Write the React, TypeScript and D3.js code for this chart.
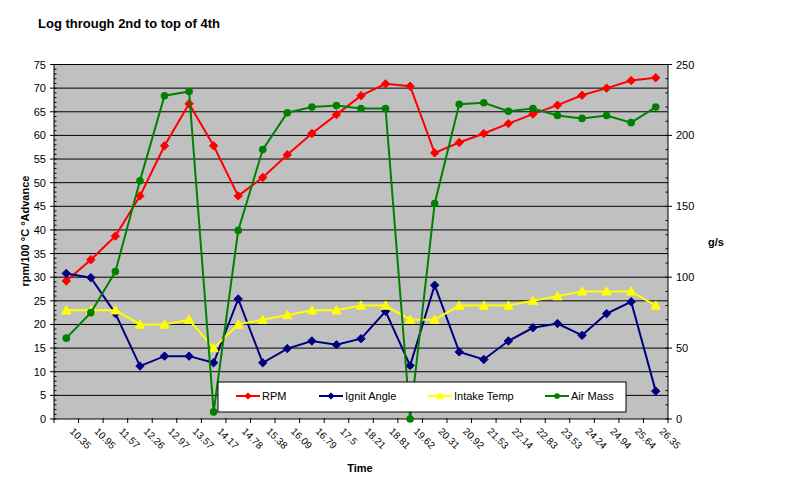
import React from "react";
import * as d3 from "d3";

const times = ["10.35","10.95","11.57","12.26","12.97","13.57","14.17","14.78","15.38","16.09","16.79","17.5","18.21","18.81","19.62","20.31","20.92","21.53","22.14","22.83","23.53","24.24","24.94","25.64","26.35"];
const rpm = [29.2,33.7,38.7,47.2,57.8,66.7,57.8,47.2,51.1,55.9,60.4,64.4,68.4,70.9,70.4,56.3,58.5,60.4,62.5,64.5,66.4,68.5,70,71.6,72.2];
const ignitAngle = [30.8,29.9,22.3,11.2,13.3,13.3,11.9,25.4,11.9,14.9,16.5,15.7,17.0,22.8,11.3,28.3,14.2,12.6,16.5,19.3,20.2,17.7,22.3,24.8,5.9];
const intakeTemp = [23,23,23,20,20,21,15,20,21,22,23,23,24,24,21,21,24,24,24,25,26,27,27,27,24];
const airMass = [57,75,104,168,228,231,5,133,190,216,220,221,219,219,0,152,222,223,217,219,214,212,214,209,220];
const leftTicks = d3.range(0, 76, 5);
const rightTicks = d3.range(0, 251, 50);

const W = 800, H = 491;
const L = 54, R = 668, T = 64.5, B = 419;
const FONT = "'Liberation Sans', Arial, sans-serif";

type Shape = "diamond" | "triangle" | "circle";

function Marker({ x, y, shape, color, s = 1 }: { x: number; y: number; shape: Shape; color: string; s?: number }) {
  if (shape === "diamond") {
    const r = 4.2 * s;
    return <path d={`M${x},${y - r}L${x + r},${y}L${x},${y + r}L${x - r},${y}Z`} fill={color} stroke={color} strokeWidth={1} />;
  }
  if (shape === "triangle") {
    const r = 4.6 * s;
    return <path d={`M${x},${y - r}L${x + r},${y + r * 0.8}L${x - r},${y + r * 0.8}Z`} fill={color} stroke={color} strokeWidth={1} />;
  }
  return <circle cx={x} cy={y} r={3.8 * s} fill={color} />;
}

export default function App() {
  const x = d3.scaleBand<string>().domain(times).range([L, R]);
  const yL = d3.scaleLinear().domain([0, 75]).range([B, T]);
  const yR = d3.scaleLinear().domain([0, 250]).range([B, T]);
  const cx = (t: string) => (x(t) as number) + x.bandwidth() / 2;

  const series = [
    { name: "RPM", data: rpm, y: yL, color: "#FF0000", shape: "diamond" as Shape },
    { name: "Ignit Angle", data: ignitAngle, y: yL, color: "#000080", shape: "diamond" as Shape },
    { name: "Intake Temp", data: intakeTemp, y: yL, color: "#FFFF00", shape: "triangle" as Shape },
    { name: "Air Mass", data: airMass, y: yR, color: "#008000", shape: "circle" as Shape },
  ];

  const leftMinor = d3.range(0, 76, 1);
  const rightMinor = d3.range(0, 251, 10);
  const legendX = [236, 319, 428, 545];

  return (
    <svg width={W} height={H} viewBox={`0 0 ${W} ${H}`} style={{ position: "absolute", left: 0, top: 0, background: "#fff" }}>
      <rect x={0} y={0} width={W} height={H} fill="#fff" />
      <text x={38} y={28} fontFamily={FONT} fontSize={13} fontWeight="bold" fill="#000">Log through 2nd to top of 4th</text>

      <rect x={L} y={T} width={R - L} height={B - T} fill="#C0C0C0" />
      {leftTicks.filter(v => v > 0).map(v => (
        <line key={"g" + v} x1={L} x2={R} y1={yL(v)} y2={yL(v)} stroke="#000" strokeWidth={1} />
      ))}

      {/* left axis */}
      <line x1={L} x2={L} y1={T} y2={B} stroke="#000" />
      {leftMinor.map(v => (
        <line key={"lm" + v} x1={L} x2={L + 2.5} y1={yL(v)} y2={yL(v)} stroke="#000" />
      ))}
      {leftTicks.map(v => (
        <g key={"lt" + v}>
          <line x1={L - 4} x2={L} y1={yL(v)} y2={yL(v)} stroke="#000" />
          <text x={46} y={yL(v) + 4} textAnchor="end" fontFamily={FONT} fontSize={11} fill="#000">{v}</text>
        </g>
      ))}
      {/* right axis */}
      <line x1={R} x2={R} y1={T} y2={B} stroke="#000" />
      {rightMinor.map(v => (
        <line key={"rm" + v} x1={R - 2.5} x2={R} y1={yR(v)} y2={yR(v)} stroke="#000" />
      ))}
      {rightTicks.map(v => (
        <g key={"rt" + v}>
          <line x1={R} x2={R + 4} y1={yR(v)} y2={yR(v)} stroke="#000" />
          <text x={676} y={yR(v) + 4} textAnchor="start" fontFamily={FONT} fontSize={11} fill="#000">{v}</text>
        </g>
      ))}
      {/* x axis */}
      <line x1={L} x2={R} y1={B} y2={B} stroke="#000" />
      {times.map((t, i) => (
        <line key={"xt" + i} x1={x(t) as number} x2={x(t) as number} y1={B - 1} y2={B + 4} stroke="#000" />
      ))}
      <line x1={R} x2={R} y1={B - 1} y2={B + 4} stroke="#000" />
      {times.map((t, i) => (
        <text key={"xl" + i} transform={`translate(${cx(t) + 3},${B + 13}) rotate(45)`} fontFamily={FONT} fontSize={10} fill="#000">{t}</text>
      ))}

      {/* series */}
      {series.map(s => {
        const line = d3.line<number>().x((_, i) => cx(times[i])).y(d => s.y(d));
        return (
          <g key={s.name}>
            <path d={line(s.data) || ""} fill="none" stroke={s.color} strokeWidth={2} />
            {s.data.map((d, i) => (
              <Marker key={i} x={cx(times[i])} y={s.y(d)} shape={s.shape} color={s.color} />
            ))}
          </g>
        );
      })}

      {/* legend */}
      <rect x={218} y={382} width={408} height={30} fill="#fff" stroke="#000" strokeWidth={1} />
      {series.map((s, i) => (
        <g key={"lg" + s.name}>
          <line x1={legendX[i]} x2={legendX[i] + 24} y1={396} y2={396} stroke={s.color} strokeWidth={2} />
          <Marker x={legendX[i] + 12} y={396} shape={s.shape} color={s.color} s={0.75} />
          <text x={legendX[i] + 26} y={400} fontFamily={FONT} fontSize={11} fill="#000">{s.name}</text>
        </g>
      ))}

      {/* axis titles */}
      <text transform={`translate(29,231) rotate(-90)`} textAnchor="middle" fontFamily={FONT} fontSize={11} fontWeight="bold" fill="#000">rpm/100  °C  °Advance</text>
      <text x={716} y={246} textAnchor="middle" fontFamily={FONT} fontSize={11} fontWeight="bold" fill="#000">g/s</text>
      <text x={360} y={472} textAnchor="middle" fontFamily={FONT} fontSize={11} fontWeight="bold" fill="#000">Time</text>
    </svg>
  );
}
